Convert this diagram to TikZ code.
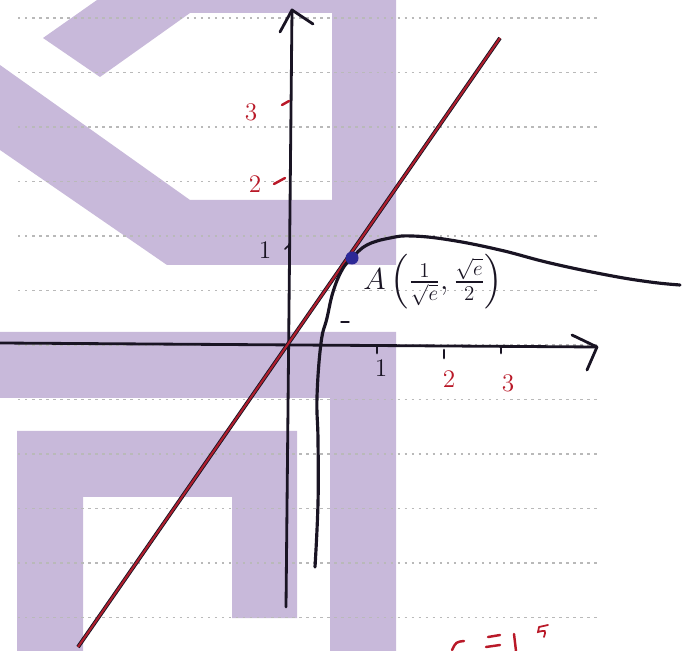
\documentclass[tikz,border=0pt]{standalone}
\usepackage{amsmath}
\usepackage{amssymb}
\usepackage{tikz}

\definecolor{lilac}{RGB}{200,185,218}
\definecolor{ink}{RGB}{25,20,35}
\definecolor{penred}{RGB}{185,25,40}
\definecolor{linered}{RGB}{175,30,45}
\definecolor{dotblue}{RGB}{45,40,150}

\begin{document}
\begin{tikzpicture}[x=0.2mm,y=-0.2mm,
  ruled/.style={gray!55,line width=0.7pt,dash pattern=on 1.4pt off 2.6pt},
  pen/.style={ink,line width=1.6pt,line cap=round,line join=round},
  redpen/.style={penred,line width=1.4pt,line cap=round},
  numred/.style={penred,font=\Large},
  numink/.style={ink,font=\Large}]
  \useasboundingbox (0,0) rectangle (691,651);
  % watermark behind the page
  \begin{scope}
    \fill[lilac] (97,0) -- (396,0) -- (396,265) -- (167,265) -- (0,150) -- (0,65)
      -- (190,200) -- (332,200) -- (332,13) -- (190,13) -- (100,77) -- (43,38) -- cycle;
    \fill[lilac] (0,332) -- (396,332) -- (396,651) -- (330,651) -- (330,398) -- (0,398) -- cycle;
    \fill[lilac] (17,431) -- (297,431) -- (297,618) -- (232,618) -- (232,497)
      -- (83,497) -- (83,651) -- (17,651) -- cycle;
  \end{scope}
  % ruled lines
  \foreach \k in {0,...,11}
    \draw[ruled] (18,{18+54.5*\k}) -- (597,{18+54.5*\k});
  % axes
  \coordinate (O) at (288,343);
  \coordinate (ytop) at (292,10);
  \coordinate (ybot) at (286,607);
  \coordinate (xleft) at (0,343);
  \coordinate (xtip) at (597,347);
  \draw[pen] (ybot) -- (ytop);
  \draw[pen] (ytop) ++(-12,22) -- (ytop) -- ++(21,14);
  \draw[pen] (xleft) -- (xtip);
  \draw[pen] (xtip) ++(-25,-12) -- (xtip) -- ++(-10,23);
  % ticks and numbers
  \draw[pen] (377,347) -- (377,353);
  \draw[pen] (444,350) -- (444,358);
  \draw[pen] (501,348) -- (501,353);
  \node[numink] (x1) at (381,368) {1};
  \node[numred] (x2) at (449,379) {2};
  \node[numred] (x3) at (508,383) {3};
  \draw[redpen] (282,105) -- (289,101);
  \draw[redpen] (274,184) -- (285,178);
  \draw[pen,line width=1pt] (285,249) -- (288,246);
  \node[numred] (y3) at (251,112) {3};
  \node[numred] (y2) at (255,184) {2};
  \node[numink] (y1) at (265,250) {1};
  % the line y = x
  \coordinate (Lbot) at (78,647);
  \coordinate (Ltop) at (500,38);
  \draw[ink,line width=2.2pt] (Lbot) -- (Ltop);
  \draw[linered,line width=1.2pt] (Lbot) -- (Ltop);
  % the curve
  \draw[pen,line width=1.8pt] plot[smooth,tension=0.7] coordinates {(315,567) (318,503) (318,440)
    (317,397) (321,343) (327,318) (333,292) (342,270) (352,258) (367,245) (390,238) (412,236)
    (450,240) (500,250) (550,263) (607,275) (650,282) (680,285)};
  \draw[pen,line width=0.8pt] (341,322) -- (349,322);
  \node[circle,fill=dotblue,inner sep=0pt,minimum size=2.6mm] (A) at (352,258) {};
  \node[ink,font=\LARGE,anchor=west,inner sep=0pt] (Alabel) at (363,282)
    {$A\left(\frac{1}{\sqrt{e}},\frac{\sqrt{e}}{2}\right)$};
  % scribble cut off at the bottom
  \draw[redpen] (452,650) .. controls (456,642) .. (464,641);
  \draw[redpen] (488,637) -- (500,635);
  \draw[redpen] (486,647) -- (500,645);
  \draw[redpen] (514,634) -- (516,651);
  \draw[redpen,line width=1pt] (539,627) -- (548,625);
  \draw[redpen,line width=1pt] (539,627) -- (538,632) .. controls (546,630) .. (544,637);
\end{tikzpicture}
\end{document}
